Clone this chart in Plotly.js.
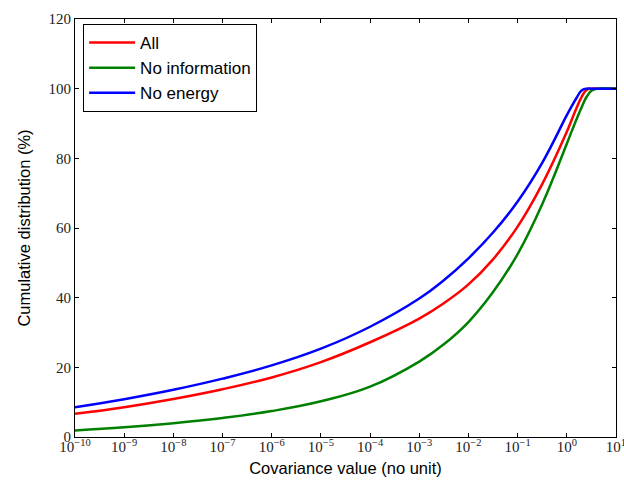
<!DOCTYPE html>
<html>
<head>
<meta charset="utf-8">
<script src="https://cdn.plot.ly/plotly-3.0.1.min.js"></script>
<style>
  html, body { margin: 0; padding: 0; background: #fff; }
  #chart { width: 624px; height: 482px; }
</style>
</head>
<body>
<div id="chart"></div>
<script>
// Covariance values (no unit) at which the cumulative distribution is sampled
const covariance = [1e-10, 1e-9, 1e-8, 1e-7, 1e-6, 1e-5, 1e-4, 1e-3, 0.00316, 0.01, 0.0316,
                    0.1, 0.316, 1, 1.259, 1.585, 1.995, 2.512, 3.162, 3.981, 10];

// Cumulative distribution (%) for each feature set
const cdfAll = [6.64, 8.55, 10.9, 13.7, 17.1, 21.5, 27.2, 34.0, 38.4, 43.8, 51.0,
                60.4, 72.6, 87.6, 91.1, 94.5, 97.6, 99.6, 100, 100, 100];
const cdfNoInformation = [1.9, 2.8, 3.95, 5.45, 7.45, 10.25, 14.45, 21.65, 26.6, 33.0, 41.6,
                          52.5, 66.8, 84.2, 87.8, 91.3, 94.6, 97.6, 99.4, 100, 100];
const cdfNoEnergy = [8.55, 10.85, 13.55, 16.75, 20.55, 25.35, 31.65, 39.75, 45.0, 51.3, 58.7,
                     67.6, 78.7, 92.4, 95.0, 97.4, 99.5, 100, 100, 100, 100];

const seriesNames = ['All', 'No information', 'No energy'];
const seriesColors = ['#ff0000', '#008000', '#0000ff'];

// Decade ticks on the log axis
const xTickExponents = [-10, -9, -8, -7, -6, -5, -4, -3, -2, -1, 0, 1];
const xTickVals = xTickExponents.map(e => Math.pow(10, e));
const xTickText = xTickExponents.map(e => '10<sup>' + (e < 0 ? '\u2212' + (-e) : e) + '</sup>');
const yTickVals = [0, 20, 40, 60, 80, 100, 120];

const serif = 'Liberation Serif, DejaVu Serif, serif';
const sans = 'Liberation Sans, Arial, sans-serif';

const seriesValues = [cdfAll, cdfNoInformation, cdfNoEnergy];
const traces = seriesValues.map((vals, i) => ({
  type: 'scatter',
  mode: 'lines',
  x: covariance,
  y: vals,
  name: seriesNames[i],
  legendgroup: 'g' + i,
  line: { color: seriesColors[i], width: 2.5, shape: 'spline', smoothing: 1.2 }
}));

const axisCommon = {
  showline: true,
  linecolor: '#000',
  linewidth: 1,
  mirror: 'ticks',
  ticks: 'inside',
  ticklen: 4,
  tickwidth: 1,
  tickcolor: '#000',
  showgrid: false,
  zeroline: false,
  ticklabeloverflow: 'allow',
  tickfont: { family: serif, size: 15, color: '#222' }
};

const layout = {
  width: 624,
  height: 482,
  margin: { l: 75, r: 8, t: 19, b: 45 },
  paper_bgcolor: '#fff',
  plot_bgcolor: '#fff',
  showlegend: true,
  legend: {
    x: 0.015, y: 0.988, xanchor: 'left', yanchor: 'top',
    bordercolor: '#000', borderwidth: 1, bgcolor: '#fff',
    font: { family: sans, size: 17, color: '#000' },
    itemwidth: 46,
    tracegroupgap: 0
  },
  xaxis: Object.assign({}, axisCommon, {
    type: 'log',
    range: [-10, 1.0002],
    tickmode: 'array',
    tickvals: xTickVals,
    ticktext: xTickText,
    ticklabelstandoff: -4,
    title: { text: 'Covariance value (no unit)', font: { family: sans, size: 16.5, color: '#000' }, standoff: 8 }
  }),
  yaxis: Object.assign({}, axisCommon, {
    range: [0, 120],
    tickmode: 'array',
    tickvals: yTickVals,
    title: { text: 'Cumulative distribution (%)', font: { family: sans, size: 16.5, color: '#000' }, standoff: 13 }
  })
};

Plotly.newPlot('chart', traces, layout, { displayModeBar: false, staticPlot: true });
</script>
</body>
</html>
